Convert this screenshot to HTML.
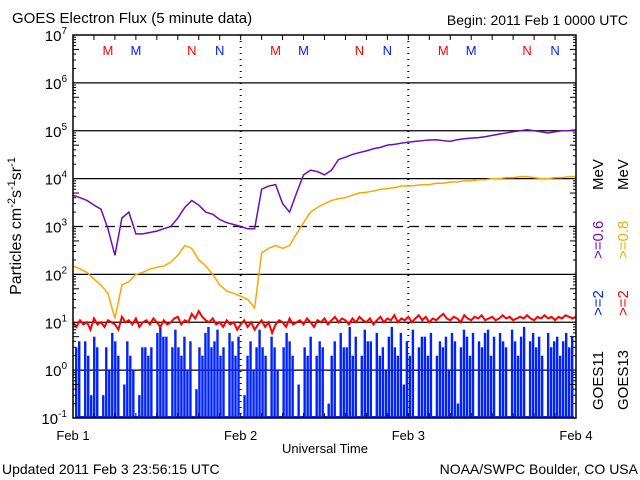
<!DOCTYPE html>
<html><head><meta charset="utf-8"><style>
body{margin:0;background:#fff;}
svg{display:block;font-family:"Liberation Sans",sans-serif;}
</style></head><body>
<svg id="c" width="640" height="480">
<text x="12" y="23" font-size="15">GOES Electron Flux (5 minute data)</text>
<text x="628" y="25" font-size="14" text-anchor="end">Begin: 2011 Feb 1 0000 UTC</text>
<text x="325" y="453" font-size="13" text-anchor="middle">Universal Time</text>
<text x="2" y="474" font-size="14">Updated 2011 Feb  3 23:56:15 UTC</text>
<text x="638" y="474" font-size="14" text-anchor="end">NOAA/SWPC Boulder, CO USA</text>
<text transform="translate(21,226) rotate(-90)" font-size="16" text-anchor="middle">Particles cm<tspan dy="-6" font-size="11">-2</tspan><tspan dy="6">s</tspan><tspan dy="-6" font-size="11">-1</tspan><tspan dy="6">sr</tspan><tspan dy="-6" font-size="11">-1</tspan></text>
<g font-size="15">
<text transform="translate(603,410) rotate(-90)">GOES11</text>
<text transform="translate(603,316) rotate(-90)" fill="#0022ff">&gt;=2</text>
<text transform="translate(603,259) rotate(-90)" fill="#6a0dbf">&gt;=0.6</text>
<text transform="translate(603,190) rotate(-90)">MeV</text>
<text transform="translate(628,410) rotate(-90)">GOES13</text>
<text transform="translate(628,316) rotate(-90)" fill="#ff0000">&gt;=2</text>
<text transform="translate(628,259) rotate(-90)" fill="#ffa500">&gt;=0.8</text>
<text transform="translate(628,190) rotate(-90)">MeV</text>
</g>
</svg>
<script>
const dayLabels=["Feb 1","Feb 2","Feb 3","Feb 4"];
const yExponents=[7,6,5,4,3,2,1,0,-1];
const purple=[4500,4000,3500,2800,2300,900,250,1500,2000,700,700,750,800,900,1000,1500,2500,3500,2800,2000,1800,1400,1200,1100,1000,900,900,6000,7000,7500,3000,2000,5000,12000,15000,14000,12000,15000,25000,28000,32000,35000,38000,42000,45000,50000,52000,55000,58000,60000,62000,64000,65000,62000,60000,65000,68000,70000,72000,75000,80000,85000,90000,95000,100000,105000,100000,95000,90000,95000,100000,100000,105000];
const orange=[150,130,110,80,60,40,12,60,70,100,110,130,140,150,180,250,400,350,200,150,100,60,45,40,35,30,20,280,350,400,350,400,700,1200,2000,2500,3000,3500,3800,4000,4500,5000,5200,5500,6000,6200,6500,7000,7000,7200,7500,7500,8000,8000,8500,8500,9000,9000,9500,9500,10000,10000,10500,10500,11000,11000,10500,10000,10000,10500,10500,11000,11000];
const red=[10,8,11,9,10,7,12,9,10,8,11,10,9,7,13,10,11,9,12,8,10,11,9,12,10,8,11,9,10,12,13,9,11,10,15,12,17,13,11,10,12,9,10,8,11,9,10,7,9,11,8,10,7,9,11,8,10,6,9,11,10,8,12,9,10,11,9,12,10,8,11,10,12,9,11,13,10,12,11,9,12,10,13,11,10,12,9,11,13,10,12,11,14,10,12,11,13,10,12,14,11,13,10,12,11,13,15,12,11,13,12,10,14,12,11,13,12,14,11,12,13,11,12,14,12,13,11,12,13,12,14,12,11,13,12,14,12,13,11,13,12,14,13,12,13];
const blue=[3,4,0.1,4,2,0.3,5,3,0.1,0.3,3,1,6,4,2,0.1,0.5,4,2,1,0.1,0.3,3,3,2,3,0.1,6,8,5,5,0.1,3,7,3,2,5,1,4,0.1,0.4,3,2,6,8,3,4,7,2,3,0.1,6,4,2,5,0.1,0.3,2,4,1,3,7,3,2,0.1,5,3,1,0.1,3,6,4,2,0.1,0.5,0.1,3,2,5,0.1,2,4,3,0.1,0.2,2,4,0.1,6,3,3,8,2,5,0.1,2,7,4,4,0.1,6,2,3,1,5,8,3,2,6,0.5,4,2,7,0.1,3,5,5,2,6,0.1,2,4,3,5,1,6,4,0.2,3,7,5,2,6,0.1,4,3,6,7,2,5,0.1,6,4,3,0.1,7,4,2,5,8,0.1,4,6,3,5,2,0.1,6,3,4,5,2,4,6,3,5];
const markers=[{t:"M",h:5,c:"#ff0000"},{t:"M",h:9,c:"#0022ff"},{t:"N",h:17,c:"#ff0000"},{t:"N",h:21,c:"#0022ff"}];

const svg=document.getElementById('c');
const NS="http://www.w3.org/2000/svg";
const L=73,R=576,T=35,B=418,HOURS=72;
const xS=h=>L+(R-L)*h/HOURS;
const yS=v=>T+(7-Math.log10(v))*(B-T)/8;
function mk(tag,attrs,parent){const e=document.createElementNS(NS,tag);for(const k in attrs)e.setAttribute(k,attrs[k]);(parent||svg).appendChild(e);return e;}

const grid=mk('g',{});


yExponents.forEach(e=>{
  if(e===7||e===-1)return;
  const l=mk('line',{x1:L,x2:R,y1:yS(Math.pow(10,e)),y2:yS(Math.pow(10,e)),stroke:'#000','stroke-width':1.2,'stroke-dasharray':e===3?'10,6':'none'},grid);
  
  
});
[24,48].forEach(h=>{
  const l=mk('line',{x1:xS(h),x2:xS(h),y1:T,y2:B,stroke:'#000','stroke-width':2,'stroke-dasharray':'1,5'},grid);
  
  
});

const bg=mk('g',{fill:'#0022ff'});


const bw=(R-L-4)/blue.length;
blue.forEach((v,i)=>{
  const y=yS(v);const base=yS(0.1);
  const r=mk('rect',{x:L+2+i*bw,y:Math.min(y,base-2),width:bw*0.8,height:Math.max(base-y,2)},bg);
  
  
});
const bl=mk('line',{x1:L+2,x2:R-2,y1:yS(0.1)-1,y2:yS(0.1)-1,stroke:'#0022ff','stroke-width':2},bg);


function line(arr,color,name,w){
  const p=mk('polyline',{points:arr.map((v,i)=>xS(i*HOURS/(arr.length-1))+','+yS(v)).join(' '),fill:'none',stroke:color,'stroke-width':w||1.5});
  
  
}
line(red,'#ff0000','series-goes13-2mev',2);
line(orange,'#ffa500','series-goes13-08mev');
line(purple,'#6a0dbf','series-goes11-06mev');

const fr=mk('rect',{x:L,y:T,width:R-L,height:B-T,fill:'none',stroke:'#000','stroke-width':1.5});


const tk=mk('g',{stroke:'#000','stroke-width':1});


for(let h=3;h<HOURS;h+=3){mk('line',{x1:xS(h),x2:xS(h),y1:B,y2:B-5},tk);mk('line',{x1:xS(h),x2:xS(h),y1:T,y2:T+5},tk);}
for(let e=-1;e<7;e++)for(let m=2;m<10;m++){const y=yS(m*Math.pow(10,e));const len=m===5?6:3;mk('line',{x1:L,x2:L+len,y1:y,y2:y},tk);mk('line',{x1:R,x2:R-len,y1:y,y2:y},tk);}
yExponents.forEach(e=>{
  const t=mk('text',{x:L-6,y:yS(Math.pow(10,e))+6,'font-size':15,'text-anchor':'end'});
  t.innerHTML='10<tspan dy="-7" font-size="10">'+e+'</tspan>';
  
  
});
dayLabels.forEach((d,i)=>{
  const t=mk('text',{x:xS(i*24),y:440,'font-size':13,'text-anchor':'middle'});
  t.textContent=d;
  
  
});
for(let d=0;d<3;d++)markers.forEach(m=>{
  const t=mk('text',{x:xS(d*24+m.h),y:55,'font-size':13,'text-anchor':'middle',fill:m.c});
  t.textContent=m.t;
  
  
});
</script>
</body></html>
